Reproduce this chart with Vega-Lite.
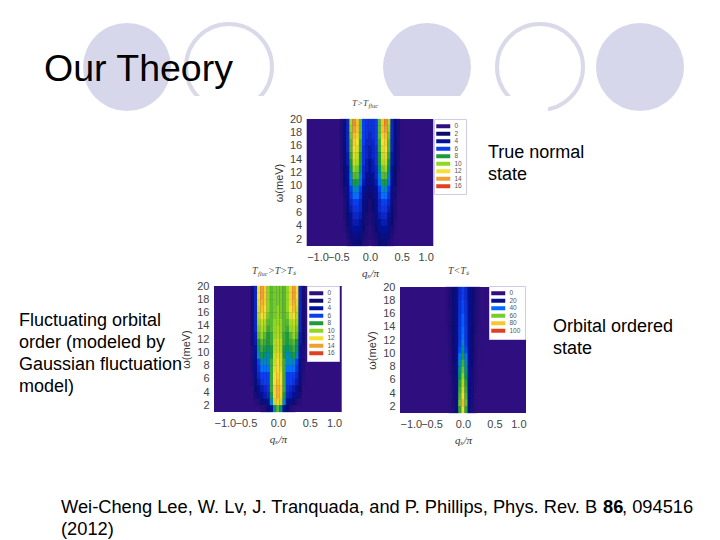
{"$schema":"https://vega.github.io/schema/vega-lite/v6.json","width":720,"height":540,"autosize":{"type":"none"},"padding":0,"background":"white",
"config":{"view":{"stroke":null},"axis":{"domain":false,"ticks":false,"grid":false,"labelFont":"Liberation Sans","labelFontSize":11,"labelColor":"#444","labelPadding":5,"labelOverlap":false,"titleFontWeight":"normal","titleColor":"#333"},"legend":{"labelFont":"Liberation Sans","labelColor":"#555","labelFontSize":6.5,"fillColor":"white","strokeColor":"#cfcbe3","title":null,"symbolType":"M-3.5,-1H3.5V1H-3.5Z","symbolSize":16,"symbolStrokeWidth":0,"rowPadding":0.5,"padding":4,"symbolOffset":2,"labelOffset":8}},
"resolve":{"scale":{"x":"independent","y":"independent","color":"independent"},"axis":{"x":"independent","y":"independent"},"legend":{"color":"independent"}},
"layer":[
{"data":{"values":[{"slot":1,"kind":"filled"},{"slot":3,"kind":"filled"},{"slot":5,"kind":"filled"}]},"mark":{"type":"point","shape":"circle","filled":true,"opacity":1,"size":7744,"color":"#d7d7ec"},"encoding":{"x":{"field":"slot","type":"quantitative","axis":null,"scale":{"domain":[1,2,3,4,5],"range":[127,229,427,540,640]}},"y":{"value":67}}},
{"data":{"values":[{"slot":2,"kind":"ring"},{"slot":4,"kind":"ring"}]},"mark":{"type":"point","shape":"circle","filled":false,"opacity":1,"size":7396,"stroke":"#d9d9ea","strokeWidth":4},"encoding":{"x":{"field":"slot","type":"quantitative","axis":null,"scale":{"domain":[1,2,3,4,5],"range":[127,229,427,540,640]}},"y":{"value":67}}},
{"mark":{"type":"rect","color":"white"},"data":{"values":[{}]},"encoding":{"x":{"value":168},"x2":{"value":548},"y":{"value":96},"y2":{"value":460}}},
{"encoding":{"x":{"field":"q","type":"quantitative","scale":{"domain":[-1,1],"range":[306.7,433.3]},"axis":{"zindex":1,"orient":"bottom","offset":-294,"values":[-1,-0.5,0,0.5,1],"format":".1f","title":"qₓ/π","titleFont":"Liberation Serif","titleFontStyle":"italic","titleFontSize":11,"titlePadding":5}},"y":{"field":"w","type":"quantitative","scale":{"domain":[1,20],"range":[246,119]},"axis":{"zindex":1,"orient":"left","offset":-306.7,"values":[2,4,6,8,10,12,14,16,18,20],"title":"ω(meV)","titleFont":"Liberation Sans","titleFontSize":11,"titlePadding":5}}},"layer":[
{"data":{"values":[{"q":-1,"q2":1,"w":1,"w2":20}]},"mark":{"type":"rect","color":"#2f0f7f"},"encoding":{"x2":{"field":"q2"},"y2":{"field":"w2"}}},
{"data":{"values":[
{"q":-0.45,"w":19.5,"v":1},{"q":-0.4,"w":19.5,"v":3},{"q":-0.35,"w":19.5,"v":5},{"q":-0.3,"w":19.5,"v":10.5},{"q":-0.25,"w":19.5,"v":14.5},{"q":-0.2,"w":19.5,"v":13},{"q":-0.15,"w":19.5,"v":9},{"q":-0.1,"w":19.5,"v":6},{"q":-0.05,"w":19.5,"v":5.5},{"q":0,"w":19.5,"v":5.5},{"q":0.05,"w":19.5,"v":5.5},{"q":0.1,"w":19.5,"v":6},{"q":0.15,"w":19.5,"v":9},{"q":0.2,"w":19.5,"v":13},{"q":0.25,"w":19.5,"v":14.5},{"q":0.3,"w":19.5,"v":10.5},{"q":0.35,"w":19.5,"v":5},{"q":0.4,"w":19.5,"v":3},{"q":0.45,"w":19.5,"v":1},
{"q":-0.45,"w":18.5,"v":1},{"q":-0.4,"w":18.5,"v":3},{"q":-0.35,"w":18.5,"v":5},{"q":-0.3,"w":18.5,"v":10},{"q":-0.25,"w":18.5,"v":14},{"q":-0.2,"w":18.5,"v":13},{"q":-0.15,"w":18.5,"v":9},{"q":-0.1,"w":18.5,"v":6},{"q":-0.05,"w":18.5,"v":5.5},{"q":0,"w":18.5,"v":5.5},{"q":0.05,"w":18.5,"v":5.5},{"q":0.1,"w":18.5,"v":6},{"q":0.15,"w":18.5,"v":9},{"q":0.2,"w":18.5,"v":13},{"q":0.25,"w":18.5,"v":14},{"q":0.3,"w":18.5,"v":10},{"q":0.35,"w":18.5,"v":5},{"q":0.4,"w":18.5,"v":3},{"q":0.45,"w":18.5,"v":1},
{"q":-0.45,"w":17.5,"v":1},{"q":-0.4,"w":17.5,"v":3},{"q":-0.35,"w":17.5,"v":5},{"q":-0.3,"w":17.5,"v":9.5},{"q":-0.25,"w":17.5,"v":13},{"q":-0.2,"w":17.5,"v":12.5},{"q":-0.15,"w":17.5,"v":9},{"q":-0.1,"w":17.5,"v":6},{"q":-0.05,"w":17.5,"v":5.5},{"q":0,"w":17.5,"v":5},{"q":0.05,"w":17.5,"v":5.5},{"q":0.1,"w":17.5,"v":6},{"q":0.15,"w":17.5,"v":9},{"q":0.2,"w":17.5,"v":12.5},{"q":0.25,"w":17.5,"v":13},{"q":0.3,"w":17.5,"v":9.5},{"q":0.35,"w":17.5,"v":5},{"q":0.4,"w":17.5,"v":3},{"q":0.45,"w":17.5,"v":1},
{"q":-0.45,"w":16.5,"v":1},{"q":-0.4,"w":16.5,"v":2.5},{"q":-0.35,"w":16.5,"v":5},{"q":-0.3,"w":16.5,"v":9},{"q":-0.25,"w":16.5,"v":12.5},{"q":-0.2,"w":16.5,"v":12},{"q":-0.15,"w":16.5,"v":8.5},{"q":-0.1,"w":16.5,"v":6},{"q":-0.05,"w":16.5,"v":5},{"q":0,"w":16.5,"v":5},{"q":0.05,"w":16.5,"v":5},{"q":0.1,"w":16.5,"v":6},{"q":0.15,"w":16.5,"v":8.5},{"q":0.2,"w":16.5,"v":12},{"q":0.25,"w":16.5,"v":12.5},{"q":0.3,"w":16.5,"v":9},{"q":0.35,"w":16.5,"v":5},{"q":0.4,"w":16.5,"v":2.5},{"q":0.45,"w":16.5,"v":1},
{"q":-0.45,"w":15.5,"v":1},{"q":-0.4,"w":15.5,"v":2.5},{"q":-0.35,"w":15.5,"v":5},{"q":-0.3,"w":15.5,"v":9},{"q":-0.25,"w":15.5,"v":12},{"q":-0.2,"w":15.5,"v":11.5},{"q":-0.15,"w":15.5,"v":8.5},{"q":-0.1,"w":15.5,"v":5.5},{"q":-0.05,"w":15.5,"v":5},{"q":0,"w":15.5,"v":4.5},{"q":0.05,"w":15.5,"v":5},{"q":0.1,"w":15.5,"v":5.5},{"q":0.15,"w":15.5,"v":8.5},{"q":0.2,"w":15.5,"v":11.5},{"q":0.25,"w":15.5,"v":12},{"q":0.3,"w":15.5,"v":9},{"q":0.35,"w":15.5,"v":5},{"q":0.4,"w":15.5,"v":2.5},{"q":0.45,"w":15.5,"v":1},
{"q":-0.45,"w":14.5,"v":1},{"q":-0.4,"w":14.5,"v":2.5},{"q":-0.35,"w":14.5,"v":4.5},{"q":-0.3,"w":14.5,"v":8.5},{"q":-0.25,"w":14.5,"v":11.5},{"q":-0.2,"w":14.5,"v":11},{"q":-0.15,"w":14.5,"v":8},{"q":-0.1,"w":14.5,"v":5.5},{"q":-0.05,"w":14.5,"v":5},{"q":0,"w":14.5,"v":4.5},{"q":0.05,"w":14.5,"v":5},{"q":0.1,"w":14.5,"v":5.5},{"q":0.15,"w":14.5,"v":8},{"q":0.2,"w":14.5,"v":11},{"q":0.25,"w":14.5,"v":11.5},{"q":0.3,"w":14.5,"v":8.5},{"q":0.35,"w":14.5,"v":4.5},{"q":0.4,"w":14.5,"v":2.5},{"q":0.45,"w":14.5,"v":1},
{"q":-0.45,"w":13.5,"v":1},{"q":-0.4,"w":13.5,"v":2.5},{"q":-0.35,"w":13.5,"v":4.5},{"q":-0.3,"w":13.5,"v":8},{"q":-0.25,"w":13.5,"v":11},{"q":-0.2,"w":13.5,"v":10.5},{"q":-0.15,"w":13.5,"v":8},{"q":-0.1,"w":13.5,"v":5.5},{"q":-0.05,"w":13.5,"v":4.5},{"q":0,"w":13.5,"v":4},{"q":0.05,"w":13.5,"v":4.5},{"q":0.1,"w":13.5,"v":5.5},{"q":0.15,"w":13.5,"v":8},{"q":0.2,"w":13.5,"v":10.5},{"q":0.25,"w":13.5,"v":11},{"q":0.3,"w":13.5,"v":8},{"q":0.35,"w":13.5,"v":4.5},{"q":0.4,"w":13.5,"v":2.5},{"q":0.45,"w":13.5,"v":1},
{"q":-0.45,"w":12.5,"v":1},{"q":-0.4,"w":12.5,"v":2},{"q":-0.35,"w":12.5,"v":4},{"q":-0.3,"w":12.5,"v":7.5},{"q":-0.25,"w":12.5,"v":10},{"q":-0.2,"w":12.5,"v":9.5},{"q":-0.15,"w":12.5,"v":7.5},{"q":-0.1,"w":12.5,"v":5},{"q":-0.05,"w":12.5,"v":4.5},{"q":0,"w":12.5,"v":4},{"q":0.05,"w":12.5,"v":4.5},{"q":0.1,"w":12.5,"v":5},{"q":0.15,"w":12.5,"v":7.5},{"q":0.2,"w":12.5,"v":9.5},{"q":0.25,"w":12.5,"v":10},{"q":0.3,"w":12.5,"v":7.5},{"q":0.35,"w":12.5,"v":4},{"q":0.4,"w":12.5,"v":2},{"q":0.45,"w":12.5,"v":1},
{"q":-0.45,"w":11.5,"v":0.5},{"q":-0.4,"w":11.5,"v":2},{"q":-0.35,"w":11.5,"v":4},{"q":-0.3,"w":11.5,"v":7},{"q":-0.25,"w":11.5,"v":9},{"q":-0.2,"w":11.5,"v":9},{"q":-0.15,"w":11.5,"v":7},{"q":-0.1,"w":11.5,"v":5},{"q":-0.05,"w":11.5,"v":4},{"q":0,"w":11.5,"v":3.5},{"q":0.05,"w":11.5,"v":4},{"q":0.1,"w":11.5,"v":5},{"q":0.15,"w":11.5,"v":7},{"q":0.2,"w":11.5,"v":9},{"q":0.25,"w":11.5,"v":9},{"q":0.3,"w":11.5,"v":7},{"q":0.35,"w":11.5,"v":4},{"q":0.4,"w":11.5,"v":2},{"q":0.45,"w":11.5,"v":0.5},
{"q":-0.45,"w":10.5,"v":0.5},{"q":-0.4,"w":10.5,"v":2},{"q":-0.35,"w":10.5,"v":3.5},{"q":-0.3,"w":10.5,"v":6.5},{"q":-0.25,"w":10.5,"v":8},{"q":-0.2,"w":10.5,"v":8},{"q":-0.15,"w":10.5,"v":6.5},{"q":-0.1,"w":10.5,"v":4.5},{"q":-0.05,"w":10.5,"v":3.5},{"q":0,"w":10.5,"v":3},{"q":0.05,"w":10.5,"v":3.5},{"q":0.1,"w":10.5,"v":4.5},{"q":0.15,"w":10.5,"v":6.5},{"q":0.2,"w":10.5,"v":8},{"q":0.25,"w":10.5,"v":8},{"q":0.3,"w":10.5,"v":6.5},{"q":0.35,"w":10.5,"v":3.5},{"q":0.4,"w":10.5,"v":2},{"q":0.45,"w":10.5,"v":0.5},
{"q":-0.45,"w":9.5,"v":0.5},{"q":-0.4,"w":9.5,"v":1.5},{"q":-0.35,"w":9.5,"v":3.5},{"q":-0.3,"w":9.5,"v":6},{"q":-0.25,"w":9.5,"v":7},{"q":-0.2,"w":9.5,"v":7},{"q":-0.15,"w":9.5,"v":6},{"q":-0.1,"w":9.5,"v":4},{"q":-0.05,"w":9.5,"v":3},{"q":0,"w":9.5,"v":2.5},{"q":0.05,"w":9.5,"v":3},{"q":0.1,"w":9.5,"v":4},{"q":0.15,"w":9.5,"v":6},{"q":0.2,"w":9.5,"v":7},{"q":0.25,"w":9.5,"v":7},{"q":0.3,"w":9.5,"v":6},{"q":0.35,"w":9.5,"v":3.5},{"q":0.4,"w":9.5,"v":1.5},{"q":0.45,"w":9.5,"v":0.5},
{"q":-0.4,"w":8.5,"v":1.5},{"q":-0.35,"w":8.5,"v":3},{"q":-0.3,"w":8.5,"v":5.5},{"q":-0.25,"w":8.5,"v":6.5},{"q":-0.2,"w":8.5,"v":6.5},{"q":-0.15,"w":8.5,"v":5.5},{"q":-0.1,"w":8.5,"v":3.5},{"q":-0.05,"w":8.5,"v":2.5},{"q":0,"w":8.5,"v":2},{"q":0.05,"w":8.5,"v":2.5},{"q":0.1,"w":8.5,"v":3.5},{"q":0.15,"w":8.5,"v":5.5},{"q":0.2,"w":8.5,"v":6.5},{"q":0.25,"w":8.5,"v":6.5},{"q":0.3,"w":8.5,"v":5.5},{"q":0.35,"w":8.5,"v":3},{"q":0.4,"w":8.5,"v":1.5},
{"q":-0.4,"w":7.5,"v":1},{"q":-0.35,"w":7.5,"v":3},{"q":-0.3,"w":7.5,"v":5},{"q":-0.25,"w":7.5,"v":6},{"q":-0.2,"w":7.5,"v":6},{"q":-0.15,"w":7.5,"v":5},{"q":-0.1,"w":7.5,"v":3},{"q":-0.05,"w":7.5,"v":2},{"q":0,"w":7.5,"v":1.5},{"q":0.05,"w":7.5,"v":2},{"q":0.1,"w":7.5,"v":3},{"q":0.15,"w":7.5,"v":5},{"q":0.2,"w":7.5,"v":6},{"q":0.25,"w":7.5,"v":6},{"q":0.3,"w":7.5,"v":5},{"q":0.35,"w":7.5,"v":3},{"q":0.4,"w":7.5,"v":1},
{"q":-0.4,"w":6.5,"v":1},{"q":-0.35,"w":6.5,"v":2.5},{"q":-0.3,"w":6.5,"v":4.5},{"q":-0.25,"w":6.5,"v":5.5},{"q":-0.2,"w":6.5,"v":5.5},{"q":-0.15,"w":6.5,"v":5},{"q":-0.1,"w":6.5,"v":3},{"q":-0.05,"w":6.5,"v":2},{"q":0,"w":6.5,"v":1.5},{"q":0.05,"w":6.5,"v":2},{"q":0.1,"w":6.5,"v":3},{"q":0.15,"w":6.5,"v":5},{"q":0.2,"w":6.5,"v":5.5},{"q":0.25,"w":6.5,"v":5.5},{"q":0.3,"w":6.5,"v":4.5},{"q":0.35,"w":6.5,"v":2.5},{"q":0.4,"w":6.5,"v":1},
{"q":-0.4,"w":5.5,"v":1},{"q":-0.35,"w":5.5,"v":2},{"q":-0.3,"w":5.5,"v":4},{"q":-0.25,"w":5.5,"v":5},{"q":-0.2,"w":5.5,"v":5},{"q":-0.15,"w":5.5,"v":4.5},{"q":-0.1,"w":5.5,"v":2.5},{"q":-0.05,"w":5.5,"v":1.5},{"q":0,"w":5.5,"v":1},{"q":0.05,"w":5.5,"v":1.5},{"q":0.1,"w":5.5,"v":2.5},{"q":0.15,"w":5.5,"v":4.5},{"q":0.2,"w":5.5,"v":5},{"q":0.25,"w":5.5,"v":5},{"q":0.3,"w":5.5,"v":4},{"q":0.35,"w":5.5,"v":2},{"q":0.4,"w":5.5,"v":1},
{"q":-0.4,"w":4.5,"v":0.5},{"q":-0.35,"w":4.5,"v":2},{"q":-0.3,"w":4.5,"v":3.5},{"q":-0.25,"w":4.5,"v":4.5},{"q":-0.2,"w":4.5,"v":4.5},{"q":-0.15,"w":4.5,"v":4},{"q":-0.1,"w":4.5,"v":2.5},{"q":-0.05,"w":4.5,"v":1.5},{"q":0,"w":4.5,"v":1},{"q":0.05,"w":4.5,"v":1.5},{"q":0.1,"w":4.5,"v":2.5},{"q":0.15,"w":4.5,"v":4},{"q":0.2,"w":4.5,"v":4.5},{"q":0.25,"w":4.5,"v":4.5},{"q":0.3,"w":4.5,"v":3.5},{"q":0.35,"w":4.5,"v":2},{"q":0.4,"w":4.5,"v":0.5},
{"q":-0.4,"w":3.5,"v":0.5},{"q":-0.35,"w":3.5,"v":1.5},{"q":-0.3,"w":3.5,"v":3},{"q":-0.25,"w":3.5,"v":4},{"q":-0.2,"w":3.5,"v":4},{"q":-0.15,"w":3.5,"v":3.5},{"q":-0.1,"w":3.5,"v":2},{"q":-0.05,"w":3.5,"v":1},{"q":0,"w":3.5,"v":0.5},{"q":0.05,"w":3.5,"v":1},{"q":0.1,"w":3.5,"v":2},{"q":0.15,"w":3.5,"v":3.5},{"q":0.2,"w":3.5,"v":4},{"q":0.25,"w":3.5,"v":4},{"q":0.3,"w":3.5,"v":3},{"q":0.35,"w":3.5,"v":1.5},{"q":0.4,"w":3.5,"v":0.5},
{"q":-0.35,"w":2.5,"v":1},{"q":-0.3,"w":2.5,"v":2.5},{"q":-0.25,"w":2.5,"v":3},{"q":-0.2,"w":2.5,"v":3},{"q":-0.15,"w":2.5,"v":2.5},{"q":-0.1,"w":2.5,"v":1.5},{"q":-0.05,"w":2.5,"v":1},{"q":0,"w":2.5,"v":0.5},{"q":0.05,"w":2.5,"v":1},{"q":0.1,"w":2.5,"v":1.5},{"q":0.15,"w":2.5,"v":2.5},{"q":0.2,"w":2.5,"v":3},{"q":0.25,"w":2.5,"v":3},{"q":0.3,"w":2.5,"v":2.5},{"q":0.35,"w":2.5,"v":1},
{"q":-0.35,"w":1.5,"v":0.5},{"q":-0.3,"w":1.5,"v":1.5},{"q":-0.25,"w":1.5,"v":2.5},{"q":-0.2,"w":1.5,"v":2.5},{"q":-0.15,"w":1.5,"v":2},{"q":-0.1,"w":1.5,"v":1},{"q":-0.05,"w":1.5,"v":0.5},{"q":0.05,"w":1.5,"v":0.5},{"q":0.1,"w":1.5,"v":1},{"q":0.15,"w":1.5,"v":2},{"q":0.2,"w":1.5,"v":2.5},{"q":0.25,"w":1.5,"v":2.5},{"q":0.3,"w":1.5,"v":1.5},{"q":0.35,"w":1.5,"v":0.5}
]},"mark":{"type":"point","filled":true,"opacity":1,"strokeWidth":0,"size":11,"shape":"M-1,-2.1H1V2.1H-1Z"},"encoding":{"color":{"field":"v","type":"quantitative","scale":{"domain":[0,2,4,6,8,10,12,14,16],"range":["#2f0f7f","#0c0c70","#00129a","#0a3ff0","#1f9a3a","#90d820","#f5e030","#f0a030","#e04020"]},"legend":{"type":"symbol","values":[0,2,4,6,8,10,12,14,16],"orient":"none","legendX":434,"legendY":119}}}}
]},
{"encoding":{"x":{"field":"q","type":"quantitative","scale":{"domain":[-1,1],"range":[214,341.7]},"axis":{"zindex":1,"orient":"bottom","offset":-128,"values":[-1,-0.5,0,0.5,1],"format":".1f","title":"qₓ/π","titleFont":"Liberation Serif","titleFontStyle":"italic","titleFontSize":11,"titlePadding":5}},"y":{"field":"w","type":"quantitative","scale":{"domain":[1,20],"range":[412,286]},"axis":{"zindex":1,"orient":"left","offset":-214,"values":[2,4,6,8,10,12,14,16,18,20],"title":"ω(meV)","titleFont":"Liberation Sans","titleFontSize":11,"titlePadding":5}}},"layer":[
{"data":{"values":[{"q":-1,"q2":1,"w":1,"w2":20}]},"mark":{"type":"rect","color":"#2f0f7f"},"encoding":{"x2":{"field":"q2"},"y2":{"field":"w2"}}},
{"data":{"values":[
{"q":-0.4,"w":19.5,"v":1.5},{"q":-0.35,"w":19.5,"v":5},{"q":-0.3,"w":19.5,"v":12},{"q":-0.25,"w":19.5,"v":14},{"q":-0.2,"w":19.5,"v":12.5},{"q":-0.15,"w":19.5,"v":10},{"q":-0.1,"w":19.5,"v":9},{"q":-0.05,"w":19.5,"v":9.5},{"q":0,"w":19.5,"v":9.5},{"q":0.05,"w":19.5,"v":9.5},{"q":0.1,"w":19.5,"v":9},{"q":0.15,"w":19.5,"v":10},{"q":0.2,"w":19.5,"v":12.5},{"q":0.25,"w":19.5,"v":14},{"q":0.3,"w":19.5,"v":12},{"q":0.35,"w":19.5,"v":5},{"q":0.4,"w":19.5,"v":1.5},
{"q":-0.4,"w":18.5,"v":1.5},{"q":-0.35,"w":18.5,"v":5},{"q":-0.3,"w":18.5,"v":12},{"q":-0.25,"w":18.5,"v":14},{"q":-0.2,"w":18.5,"v":12.5},{"q":-0.15,"w":18.5,"v":10},{"q":-0.1,"w":18.5,"v":9},{"q":-0.05,"w":18.5,"v":9.5},{"q":0,"w":18.5,"v":9.5},{"q":0.05,"w":18.5,"v":9.5},{"q":0.1,"w":18.5,"v":9},{"q":0.15,"w":18.5,"v":10},{"q":0.2,"w":18.5,"v":12.5},{"q":0.25,"w":18.5,"v":14},{"q":0.3,"w":18.5,"v":12},{"q":0.35,"w":18.5,"v":5},{"q":0.4,"w":18.5,"v":1.5},
{"q":-0.4,"w":17.5,"v":1.5},{"q":-0.35,"w":17.5,"v":5},{"q":-0.3,"w":17.5,"v":11.5},{"q":-0.25,"w":17.5,"v":13.5},{"q":-0.2,"w":17.5,"v":12.5},{"q":-0.15,"w":17.5,"v":10},{"q":-0.1,"w":17.5,"v":9},{"q":-0.05,"w":17.5,"v":9.5},{"q":0,"w":17.5,"v":9.5},{"q":0.05,"w":17.5,"v":9.5},{"q":0.1,"w":17.5,"v":9},{"q":0.15,"w":17.5,"v":10},{"q":0.2,"w":17.5,"v":12.5},{"q":0.25,"w":17.5,"v":13.5},{"q":0.3,"w":17.5,"v":11.5},{"q":0.35,"w":17.5,"v":5},{"q":0.4,"w":17.5,"v":1.5},
{"q":-0.4,"w":16.5,"v":1.5},{"q":-0.35,"w":16.5,"v":5},{"q":-0.3,"w":16.5,"v":11},{"q":-0.25,"w":16.5,"v":13},{"q":-0.2,"w":16.5,"v":12},{"q":-0.15,"w":16.5,"v":10},{"q":-0.1,"w":16.5,"v":9},{"q":-0.05,"w":16.5,"v":9.5},{"q":0,"w":16.5,"v":10},{"q":0.05,"w":16.5,"v":9.5},{"q":0.1,"w":16.5,"v":9},{"q":0.15,"w":16.5,"v":10},{"q":0.2,"w":16.5,"v":12},{"q":0.25,"w":16.5,"v":13},{"q":0.3,"w":16.5,"v":11},{"q":0.35,"w":16.5,"v":5},{"q":0.4,"w":16.5,"v":1.5},
{"q":-0.4,"w":15.5,"v":1.5},{"q":-0.35,"w":15.5,"v":5},{"q":-0.3,"w":15.5,"v":10.5},{"q":-0.25,"w":15.5,"v":12},{"q":-0.2,"w":15.5,"v":11.5},{"q":-0.15,"w":15.5,"v":9.5},{"q":-0.1,"w":15.5,"v":9},{"q":-0.05,"w":15.5,"v":9.5},{"q":0,"w":15.5,"v":10},{"q":0.05,"w":15.5,"v":9.5},{"q":0.1,"w":15.5,"v":9},{"q":0.15,"w":15.5,"v":9.5},{"q":0.2,"w":15.5,"v":11.5},{"q":0.25,"w":15.5,"v":12},{"q":0.3,"w":15.5,"v":10.5},{"q":0.35,"w":15.5,"v":5},{"q":0.4,"w":15.5,"v":1.5},
{"q":-0.4,"w":14.5,"v":1.5},{"q":-0.35,"w":14.5,"v":5},{"q":-0.3,"w":14.5,"v":10},{"q":-0.25,"w":14.5,"v":11},{"q":-0.2,"w":14.5,"v":10.5},{"q":-0.15,"w":14.5,"v":9},{"q":-0.1,"w":14.5,"v":9},{"q":-0.05,"w":14.5,"v":10},{"q":0,"w":14.5,"v":10},{"q":0.05,"w":14.5,"v":10},{"q":0.1,"w":14.5,"v":9},{"q":0.15,"w":14.5,"v":9},{"q":0.2,"w":14.5,"v":10.5},{"q":0.25,"w":14.5,"v":11},{"q":0.3,"w":14.5,"v":10},{"q":0.35,"w":14.5,"v":5},{"q":0.4,"w":14.5,"v":1.5},
{"q":-0.4,"w":13.5,"v":1.5},{"q":-0.35,"w":13.5,"v":5},{"q":-0.3,"w":13.5,"v":9.5},{"q":-0.25,"w":13.5,"v":10.5},{"q":-0.2,"w":13.5,"v":10},{"q":-0.15,"w":13.5,"v":8.5},{"q":-0.1,"w":13.5,"v":9},{"q":-0.05,"w":13.5,"v":10},{"q":0,"w":13.5,"v":10.5},{"q":0.05,"w":13.5,"v":10},{"q":0.1,"w":13.5,"v":9},{"q":0.15,"w":13.5,"v":8.5},{"q":0.2,"w":13.5,"v":10},{"q":0.25,"w":13.5,"v":10.5},{"q":0.3,"w":13.5,"v":9.5},{"q":0.35,"w":13.5,"v":5},{"q":0.4,"w":13.5,"v":1.5},
{"q":-0.4,"w":12.5,"v":1.5},{"q":-0.35,"w":12.5,"v":4.5},{"q":-0.3,"w":12.5,"v":9},{"q":-0.25,"w":12.5,"v":10},{"q":-0.2,"w":12.5,"v":9},{"q":-0.15,"w":12.5,"v":8},{"q":-0.1,"w":12.5,"v":8.5},{"q":-0.05,"w":12.5,"v":10},{"q":0,"w":12.5,"v":10.5},{"q":0.05,"w":12.5,"v":10},{"q":0.1,"w":12.5,"v":8.5},{"q":0.15,"w":12.5,"v":8},{"q":0.2,"w":12.5,"v":9},{"q":0.25,"w":12.5,"v":10},{"q":0.3,"w":12.5,"v":9},{"q":0.35,"w":12.5,"v":4.5},{"q":0.4,"w":12.5,"v":1.5},
{"q":-0.4,"w":11.5,"v":1.5},{"q":-0.35,"w":11.5,"v":4.5},{"q":-0.3,"w":11.5,"v":8},{"q":-0.25,"w":11.5,"v":9},{"q":-0.2,"w":11.5,"v":8.5},{"q":-0.15,"w":11.5,"v":8},{"q":-0.1,"w":11.5,"v":8.5},{"q":-0.05,"w":11.5,"v":10.5},{"q":0,"w":11.5,"v":11},{"q":0.05,"w":11.5,"v":10.5},{"q":0.1,"w":11.5,"v":8.5},{"q":0.15,"w":11.5,"v":8},{"q":0.2,"w":11.5,"v":8.5},{"q":0.25,"w":11.5,"v":9},{"q":0.3,"w":11.5,"v":8},{"q":0.35,"w":11.5,"v":4.5},{"q":0.4,"w":11.5,"v":1.5},
{"q":-0.4,"w":10.5,"v":1},{"q":-0.35,"w":10.5,"v":4},{"q":-0.3,"w":10.5,"v":7.5},{"q":-0.25,"w":10.5,"v":8.5},{"q":-0.2,"w":10.5,"v":8},{"q":-0.15,"w":10.5,"v":7.5},{"q":-0.1,"w":10.5,"v":8},{"q":-0.05,"w":10.5,"v":10.5},{"q":0,"w":10.5,"v":11},{"q":0.05,"w":10.5,"v":10.5},{"q":0.1,"w":10.5,"v":8},{"q":0.15,"w":10.5,"v":7.5},{"q":0.2,"w":10.5,"v":8},{"q":0.25,"w":10.5,"v":8.5},{"q":0.3,"w":10.5,"v":7.5},{"q":0.35,"w":10.5,"v":4},{"q":0.4,"w":10.5,"v":1},
{"q":-0.4,"w":9.5,"v":1},{"q":-0.35,"w":9.5,"v":4},{"q":-0.3,"w":9.5,"v":7},{"q":-0.25,"w":9.5,"v":8},{"q":-0.2,"w":9.5,"v":7.5},{"q":-0.15,"w":9.5,"v":7},{"q":-0.1,"w":9.5,"v":8},{"q":-0.05,"w":9.5,"v":11},{"q":0,"w":9.5,"v":11.5},{"q":0.05,"w":9.5,"v":11},{"q":0.1,"w":9.5,"v":8},{"q":0.15,"w":9.5,"v":7},{"q":0.2,"w":9.5,"v":7.5},{"q":0.25,"w":9.5,"v":8},{"q":0.3,"w":9.5,"v":7},{"q":0.35,"w":9.5,"v":4},{"q":0.4,"w":9.5,"v":1},
{"q":-0.4,"w":8.5,"v":1},{"q":-0.35,"w":8.5,"v":3.5},{"q":-0.3,"w":8.5,"v":6},{"q":-0.25,"w":8.5,"v":7},{"q":-0.2,"w":8.5,"v":7},{"q":-0.15,"w":8.5,"v":7},{"q":-0.1,"w":8.5,"v":8.5},{"q":-0.05,"w":8.5,"v":11},{"q":0,"w":8.5,"v":12},{"q":0.05,"w":8.5,"v":11},{"q":0.1,"w":8.5,"v":8.5},{"q":0.15,"w":8.5,"v":7},{"q":0.2,"w":8.5,"v":7},{"q":0.25,"w":8.5,"v":7},{"q":0.3,"w":8.5,"v":6},{"q":0.35,"w":8.5,"v":3.5},{"q":0.4,"w":8.5,"v":1},
{"q":-0.4,"w":7.5,"v":1},{"q":-0.35,"w":7.5,"v":3.5},{"q":-0.3,"w":7.5,"v":5.5},{"q":-0.25,"w":7.5,"v":6.5},{"q":-0.2,"w":7.5,"v":6.5},{"q":-0.15,"w":7.5,"v":6.5},{"q":-0.1,"w":7.5,"v":8.5},{"q":-0.05,"w":7.5,"v":11.5},{"q":0,"w":7.5,"v":12},{"q":0.05,"w":7.5,"v":11.5},{"q":0.1,"w":7.5,"v":8.5},{"q":0.15,"w":7.5,"v":6.5},{"q":0.2,"w":7.5,"v":6.5},{"q":0.25,"w":7.5,"v":6.5},{"q":0.3,"w":7.5,"v":5.5},{"q":0.35,"w":7.5,"v":3.5},{"q":0.4,"w":7.5,"v":1},
{"q":-0.4,"w":6.5,"v":0.5},{"q":-0.35,"w":6.5,"v":3},{"q":-0.3,"w":6.5,"v":5},{"q":-0.25,"w":6.5,"v":6},{"q":-0.2,"w":6.5,"v":6},{"q":-0.15,"w":6.5,"v":6},{"q":-0.1,"w":6.5,"v":8.5},{"q":-0.05,"w":6.5,"v":12},{"q":0,"w":6.5,"v":12.5},{"q":0.05,"w":6.5,"v":12},{"q":0.1,"w":6.5,"v":8.5},{"q":0.15,"w":6.5,"v":6},{"q":0.2,"w":6.5,"v":6},{"q":0.25,"w":6.5,"v":6},{"q":0.3,"w":6.5,"v":5},{"q":0.35,"w":6.5,"v":3},{"q":0.4,"w":6.5,"v":0.5},
{"q":-0.4,"w":5.5,"v":0.5},{"q":-0.35,"w":5.5,"v":2.5},{"q":-0.3,"w":5.5,"v":4.5},{"q":-0.25,"w":5.5,"v":5.5},{"q":-0.2,"w":5.5,"v":6},{"q":-0.15,"w":5.5,"v":6},{"q":-0.1,"w":5.5,"v":8.5},{"q":-0.05,"w":5.5,"v":12},{"q":0,"w":5.5,"v":13},{"q":0.05,"w":5.5,"v":12},{"q":0.1,"w":5.5,"v":8.5},{"q":0.15,"w":5.5,"v":6},{"q":0.2,"w":5.5,"v":6},{"q":0.25,"w":5.5,"v":5.5},{"q":0.3,"w":5.5,"v":4.5},{"q":0.35,"w":5.5,"v":2.5},{"q":0.4,"w":5.5,"v":0.5},
{"q":-0.35,"w":4.5,"v":2},{"q":-0.3,"w":4.5,"v":3.5},{"q":-0.25,"w":4.5,"v":4.5},{"q":-0.2,"w":4.5,"v":5},{"q":-0.15,"w":4.5,"v":5.5},{"q":-0.1,"w":4.5,"v":8.5},{"q":-0.05,"w":4.5,"v":12.5},{"q":0,"w":4.5,"v":13.5},{"q":0.05,"w":4.5,"v":12.5},{"q":0.1,"w":4.5,"v":8.5},{"q":0.15,"w":4.5,"v":5.5},{"q":0.2,"w":4.5,"v":5},{"q":0.25,"w":4.5,"v":4.5},{"q":0.3,"w":4.5,"v":3.5},{"q":0.35,"w":4.5,"v":2},
{"q":-0.35,"w":3.5,"v":1.5},{"q":-0.3,"w":3.5,"v":3},{"q":-0.25,"w":3.5,"v":4},{"q":-0.2,"w":3.5,"v":4.5},{"q":-0.15,"w":3.5,"v":5},{"q":-0.1,"w":3.5,"v":8},{"q":-0.05,"w":3.5,"v":12.5},{"q":0,"w":3.5,"v":13.5},{"q":0.05,"w":3.5,"v":12.5},{"q":0.1,"w":3.5,"v":8},{"q":0.15,"w":3.5,"v":5},{"q":0.2,"w":3.5,"v":4.5},{"q":0.25,"w":3.5,"v":4},{"q":0.3,"w":3.5,"v":3},{"q":0.35,"w":3.5,"v":1.5},
{"q":-0.35,"w":2.5,"v":0.5},{"q":-0.3,"w":2.5,"v":1},{"q":-0.25,"w":2.5,"v":2},{"q":-0.2,"w":2.5,"v":3},{"q":-0.15,"w":2.5,"v":3.5},{"q":-0.1,"w":2.5,"v":7},{"q":-0.05,"w":2.5,"v":11},{"q":0,"w":2.5,"v":12.5},{"q":0.05,"w":2.5,"v":11},{"q":0.1,"w":2.5,"v":7},{"q":0.15,"w":2.5,"v":3.5},{"q":0.2,"w":2.5,"v":3},{"q":0.25,"w":2.5,"v":2},{"q":0.3,"w":2.5,"v":1},{"q":0.35,"w":2.5,"v":0.5},
{"q":-0.25,"w":1.5,"v":0.5},{"q":-0.2,"w":1.5,"v":1},{"q":-0.15,"w":1.5,"v":2},{"q":-0.1,"w":1.5,"v":4},{"q":-0.05,"w":1.5,"v":7.5},{"q":0,"w":1.5,"v":9},{"q":0.05,"w":1.5,"v":7.5},{"q":0.1,"w":1.5,"v":4},{"q":0.15,"w":1.5,"v":2},{"q":0.2,"w":1.5,"v":1},{"q":0.25,"w":1.5,"v":0.5}
]},"mark":{"type":"point","filled":true,"opacity":1,"strokeWidth":0,"size":11,"shape":"M-1,-2.1H1V2.1H-1Z"},"encoding":{"color":{"field":"v","type":"quantitative","scale":{"domain":[0,2,4,6,8,10,12,14,16],"range":["#2f0f7f","#0c0c70","#00129a","#0a3ff0","#1f9a3a","#90d820","#f5e030","#f0a030","#e04020"]},"legend":{"type":"symbol","values":[0,2,4,6,8,10,12,14,16],"orient":"none","legendX":307,"legendY":286}}}}
]},
{"encoding":{"x":{"field":"q","type":"quantitative","scale":{"domain":[-1,1],"range":[400,526]},"axis":{"zindex":1,"orient":"bottom","offset":-127,"values":[-1,-0.5,0,0.5,1],"format":".1f","title":"qₓ/π","titleFont":"Liberation Serif","titleFontStyle":"italic","titleFontSize":11,"titlePadding":5}},"y":{"field":"w","type":"quantitative","scale":{"domain":[1,20],"range":[413,287]},"axis":{"zindex":1,"orient":"left","offset":-400,"values":[2,4,6,8,10,12,14,16,18,20],"title":"ω(meV)","titleFont":"Liberation Sans","titleFontSize":11,"titlePadding":5}}},"layer":[
{"data":{"values":[{"q":-1,"q2":1,"w":1,"w2":20}]},"mark":{"type":"rect","color":"#2f0f7f"},"encoding":{"x2":{"field":"q2"},"y2":{"field":"w2"}}},
{"data":{"values":[
{"q":-0.25,"w":19.5,"v":3},{"q":-0.2,"w":19.5,"v":8},{"q":-0.15,"w":19.5,"v":14},{"q":-0.1,"w":19.5,"v":22},{"q":-0.05,"w":19.5,"v":32},{"q":0,"w":19.5,"v":37},{"q":0.05,"w":19.5,"v":32},{"q":0.1,"w":19.5,"v":22},{"q":0.15,"w":19.5,"v":14},{"q":0.2,"w":19.5,"v":8},{"q":0.25,"w":19.5,"v":3},
{"q":-0.25,"w":18.5,"v":3},{"q":-0.2,"w":18.5,"v":8},{"q":-0.15,"w":18.5,"v":14},{"q":-0.1,"w":18.5,"v":22},{"q":-0.05,"w":18.5,"v":32},{"q":0,"w":18.5,"v":37},{"q":0.05,"w":18.5,"v":32},{"q":0.1,"w":18.5,"v":22},{"q":0.15,"w":18.5,"v":14},{"q":0.2,"w":18.5,"v":8},{"q":0.25,"w":18.5,"v":3},
{"q":-0.25,"w":17.5,"v":3},{"q":-0.2,"w":17.5,"v":8},{"q":-0.15,"w":17.5,"v":14},{"q":-0.1,"w":17.5,"v":22},{"q":-0.05,"w":17.5,"v":33},{"q":0,"w":17.5,"v":38},{"q":0.05,"w":17.5,"v":33},{"q":0.1,"w":17.5,"v":22},{"q":0.15,"w":17.5,"v":14},{"q":0.2,"w":17.5,"v":8},{"q":0.25,"w":17.5,"v":3},
{"q":-0.25,"w":16.5,"v":3},{"q":-0.2,"w":16.5,"v":7},{"q":-0.15,"w":16.5,"v":14},{"q":-0.1,"w":16.5,"v":22},{"q":-0.05,"w":16.5,"v":33},{"q":0,"w":16.5,"v":38},{"q":0.05,"w":16.5,"v":33},{"q":0.1,"w":16.5,"v":22},{"q":0.15,"w":16.5,"v":14},{"q":0.2,"w":16.5,"v":7},{"q":0.25,"w":16.5,"v":3},
{"q":-0.25,"w":15.5,"v":3},{"q":-0.2,"w":15.5,"v":7},{"q":-0.15,"w":15.5,"v":14},{"q":-0.1,"w":15.5,"v":22},{"q":-0.05,"w":15.5,"v":34},{"q":0,"w":15.5,"v":39},{"q":0.05,"w":15.5,"v":34},{"q":0.1,"w":15.5,"v":22},{"q":0.15,"w":15.5,"v":14},{"q":0.2,"w":15.5,"v":7},{"q":0.25,"w":15.5,"v":3},
{"q":-0.25,"w":14.5,"v":3},{"q":-0.2,"w":14.5,"v":7},{"q":-0.15,"w":14.5,"v":13},{"q":-0.1,"w":14.5,"v":22},{"q":-0.05,"w":14.5,"v":34},{"q":0,"w":14.5,"v":39},{"q":0.05,"w":14.5,"v":34},{"q":0.1,"w":14.5,"v":22},{"q":0.15,"w":14.5,"v":13},{"q":0.2,"w":14.5,"v":7},{"q":0.25,"w":14.5,"v":3},
{"q":-0.25,"w":13.5,"v":2},{"q":-0.2,"w":13.5,"v":7},{"q":-0.15,"w":13.5,"v":13},{"q":-0.1,"w":13.5,"v":22},{"q":-0.05,"w":13.5,"v":35},{"q":0,"w":13.5,"v":40},{"q":0.05,"w":13.5,"v":35},{"q":0.1,"w":13.5,"v":22},{"q":0.15,"w":13.5,"v":13},{"q":0.2,"w":13.5,"v":7},{"q":0.25,"w":13.5,"v":2},
{"q":-0.25,"w":12.5,"v":2},{"q":-0.2,"w":12.5,"v":6},{"q":-0.15,"w":12.5,"v":13},{"q":-0.1,"w":12.5,"v":22},{"q":-0.05,"w":12.5,"v":35},{"q":0,"w":12.5,"v":41},{"q":0.05,"w":12.5,"v":35},{"q":0.1,"w":12.5,"v":22},{"q":0.15,"w":12.5,"v":13},{"q":0.2,"w":12.5,"v":6},{"q":0.25,"w":12.5,"v":2},
{"q":-0.25,"w":11.5,"v":2},{"q":-0.2,"w":11.5,"v":6},{"q":-0.15,"w":11.5,"v":12},{"q":-0.1,"w":11.5,"v":22},{"q":-0.05,"w":11.5,"v":36},{"q":0,"w":11.5,"v":43},{"q":0.05,"w":11.5,"v":36},{"q":0.1,"w":11.5,"v":22},{"q":0.15,"w":11.5,"v":12},{"q":0.2,"w":11.5,"v":6},{"q":0.25,"w":11.5,"v":2},
{"q":-0.25,"w":10.5,"v":1},{"q":-0.2,"w":10.5,"v":5},{"q":-0.15,"w":10.5,"v":12},{"q":-0.1,"w":10.5,"v":22},{"q":-0.05,"w":10.5,"v":38},{"q":0,"w":10.5,"v":46},{"q":0.05,"w":10.5,"v":38},{"q":0.1,"w":10.5,"v":22},{"q":0.15,"w":10.5,"v":12},{"q":0.2,"w":10.5,"v":5},{"q":0.25,"w":10.5,"v":1},
{"q":-0.25,"w":9.5,"v":1},{"q":-0.2,"w":9.5,"v":5},{"q":-0.15,"w":9.5,"v":11},{"q":-0.1,"w":9.5,"v":22},{"q":-0.05,"w":9.5,"v":41},{"q":0,"w":9.5,"v":50},{"q":0.05,"w":9.5,"v":41},{"q":0.1,"w":9.5,"v":22},{"q":0.15,"w":9.5,"v":11},{"q":0.2,"w":9.5,"v":5},{"q":0.25,"w":9.5,"v":1},
{"q":-0.25,"w":8.5,"v":1},{"q":-0.2,"w":8.5,"v":4},{"q":-0.15,"w":8.5,"v":11},{"q":-0.1,"w":8.5,"v":22},{"q":-0.05,"w":8.5,"v":44},{"q":0,"w":8.5,"v":54},{"q":0.05,"w":8.5,"v":44},{"q":0.1,"w":8.5,"v":22},{"q":0.15,"w":8.5,"v":11},{"q":0.2,"w":8.5,"v":4},{"q":0.25,"w":8.5,"v":1},
{"q":-0.25,"w":7.5,"v":1},{"q":-0.2,"w":7.5,"v":4},{"q":-0.15,"w":7.5,"v":10},{"q":-0.1,"w":7.5,"v":22},{"q":-0.05,"w":7.5,"v":46},{"q":0,"w":7.5,"v":58},{"q":0.05,"w":7.5,"v":46},{"q":0.1,"w":7.5,"v":22},{"q":0.15,"w":7.5,"v":10},{"q":0.2,"w":7.5,"v":4},{"q":0.25,"w":7.5,"v":1},
{"q":-0.2,"w":6.5,"v":3},{"q":-0.15,"w":6.5,"v":9},{"q":-0.1,"w":6.5,"v":22},{"q":-0.05,"w":6.5,"v":48},{"q":0,"w":6.5,"v":62},{"q":0.05,"w":6.5,"v":48},{"q":0.1,"w":6.5,"v":22},{"q":0.15,"w":6.5,"v":9},{"q":0.2,"w":6.5,"v":3},
{"q":-0.2,"w":5.5,"v":3},{"q":-0.15,"w":5.5,"v":9},{"q":-0.1,"w":5.5,"v":22},{"q":-0.05,"w":5.5,"v":51},{"q":0,"w":5.5,"v":66},{"q":0.05,"w":5.5,"v":51},{"q":0.1,"w":5.5,"v":22},{"q":0.15,"w":5.5,"v":9},{"q":0.2,"w":5.5,"v":3},
{"q":-0.2,"w":4.5,"v":3},{"q":-0.15,"w":4.5,"v":8},{"q":-0.1,"w":4.5,"v":22},{"q":-0.05,"w":4.5,"v":53},{"q":0,"w":4.5,"v":70},{"q":0.05,"w":4.5,"v":53},{"q":0.1,"w":4.5,"v":22},{"q":0.15,"w":4.5,"v":8},{"q":0.2,"w":4.5,"v":3},
{"q":-0.2,"w":3.5,"v":2},{"q":-0.15,"w":3.5,"v":8},{"q":-0.1,"w":3.5,"v":22},{"q":-0.05,"w":3.5,"v":55},{"q":0,"w":3.5,"v":76},{"q":0.05,"w":3.5,"v":55},{"q":0.1,"w":3.5,"v":22},{"q":0.15,"w":3.5,"v":8},{"q":0.2,"w":3.5,"v":2},
{"q":-0.2,"w":2.5,"v":2},{"q":-0.15,"w":2.5,"v":7},{"q":-0.1,"w":2.5,"v":21},{"q":-0.05,"w":2.5,"v":58},{"q":0,"w":2.5,"v":82},{"q":0.05,"w":2.5,"v":58},{"q":0.1,"w":2.5,"v":21},{"q":0.15,"w":2.5,"v":7},{"q":0.2,"w":2.5,"v":2},
{"q":-0.2,"w":1.5,"v":2},{"q":-0.15,"w":1.5,"v":6},{"q":-0.1,"w":1.5,"v":18},{"q":-0.05,"w":1.5,"v":52},{"q":0,"w":1.5,"v":74},{"q":0.05,"w":1.5,"v":52},{"q":0.1,"w":1.5,"v":18},{"q":0.15,"w":1.5,"v":6},{"q":0.2,"w":1.5,"v":2}
]},"mark":{"type":"point","filled":true,"opacity":1,"strokeWidth":0,"size":11,"shape":"M-1,-2.1H1V2.1H-1Z"},"encoding":{"color":{"field":"v","type":"quantitative","scale":{"domain":[0,12.5,25,37.5,50,62.5,75,87.5,100],"range":["#2f0f7f","#0c0c70","#00129a","#0a3ff0","#1f9a3a","#90d820","#f5e030","#f0a030","#e04020"]},"legend":{"type":"symbol","values":[0,20,40,60,80,100],"orient":"none","legendX":489,"legendY":286}}}}
]},
{"data":{"values":[{"label":"Our Theory"}]},"mark":{"type":"text","align":"left","baseline":"alphabetic","font":"Liberation Sans","fontSize":37.5,"color":"black"},"encoding":{"text":{"field":"label"},"x":{"value":44},"y":{"value":81}}},
{"data":{"values":[{"label":"True normal\nstate"}]},"mark":{"type":"text","align":"left","baseline":"alphabetic","font":"Liberation Sans","fontSize":18,"lineHeight":22,"lineBreak":"\n","color":"black"},"encoding":{"text":{"field":"label"},"x":{"value":488},"y":{"value":158}}},
{"data":{"values":[{"label":"Fluctuating orbital\norder (modeled by\nGaussian fluctuation\nmodel)"}]},"mark":{"type":"text","align":"left","baseline":"alphabetic","font":"Liberation Sans","fontSize":18,"lineHeight":22,"lineBreak":"\n","color":"black"},"encoding":{"text":{"field":"label"},"x":{"value":19},"y":{"value":326}}},
{"data":{"values":[{"label":"Orbital ordered\nstate"}]},"mark":{"type":"text","align":"left","baseline":"alphabetic","font":"Liberation Sans","fontSize":18,"lineHeight":22,"lineBreak":"\n","color":"black"},"encoding":{"text":{"field":"label"},"x":{"value":553},"y":{"value":332}}},
{"data":{"values":[{"label":"Wei-Cheng Lee, W. Lv, J. Tranquada, and P. Phillips, Phys. Rev. B "}]},"mark":{"type":"text","align":"left","baseline":"alphabetic","font":"Liberation Sans","fontSize":18.3,"color":"black"},"encoding":{"text":{"field":"label"},"x":{"value":61},"y":{"value":513}}},
{"data":{"values":[{"label":"86"}]},"mark":{"type":"text","align":"left","baseline":"alphabetic","font":"Liberation Sans","fontSize":18.3,"fontWeight":"bold","color":"black"},"encoding":{"text":{"field":"label"},"x":{"value":603},"y":{"value":513}}},
{"data":{"values":[{"label":", 094516"}]},"mark":{"type":"text","align":"left","baseline":"alphabetic","font":"Liberation Sans","fontSize":18.3,"color":"black"},"encoding":{"text":{"field":"label"},"x":{"value":622},"y":{"value":513}}},
{"data":{"values":[{"label":"(2012)"}]},"mark":{"type":"text","align":"left","baseline":"alphabetic","font":"Liberation Sans","fontSize":18.3,"color":"black"},"encoding":{"text":{"field":"label"},"x":{"value":61},"y":{"value":535}}},
{"data":{"values":[{"label":"T>T"}]},"mark":{"type":"text","align":"left","baseline":"alphabetic","font":"Liberation Serif","fontStyle":"italic","fontSize":9,"color":"#444"},"encoding":{"text":{"field":"label"},"x":{"value":352},"y":{"value":106}}},
{"data":{"values":[{"label":"fluc"}]},"mark":{"type":"text","align":"left","baseline":"alphabetic","font":"Liberation Serif","fontStyle":"italic","fontSize":6.5,"color":"#444"},"encoding":{"text":{"field":"label"},"x":{"value":368.5},"y":{"value":108}}},
{"data":{"values":[{"label":"T"}]},"mark":{"type":"text","align":"left","baseline":"alphabetic","font":"Liberation Serif","fontStyle":"italic","fontSize":10,"color":"#444"},"encoding":{"text":{"field":"label"},"x":{"value":252},"y":{"value":274}}},
{"data":{"values":[{"label":"fluc"}]},"mark":{"type":"text","align":"left","baseline":"alphabetic","font":"Liberation Serif","fontStyle":"italic","fontSize":6.5,"color":"#444"},"encoding":{"text":{"field":"label"},"x":{"value":258},"y":{"value":276}}},
{"data":{"values":[{"label":">T>Tₛ"}]},"mark":{"type":"text","align":"left","baseline":"alphabetic","font":"Liberation Serif","fontStyle":"italic","fontSize":10,"color":"#444"},"encoding":{"text":{"field":"label"},"x":{"value":268},"y":{"value":274}}},
{"data":{"values":[{"label":"T<Tₛ"}]},"mark":{"type":"text","align":"left","baseline":"alphabetic","font":"Liberation Serif","fontStyle":"italic","fontSize":10,"color":"#444"},"encoding":{"text":{"field":"label"},"x":{"value":448},"y":{"value":274}}}
]}
